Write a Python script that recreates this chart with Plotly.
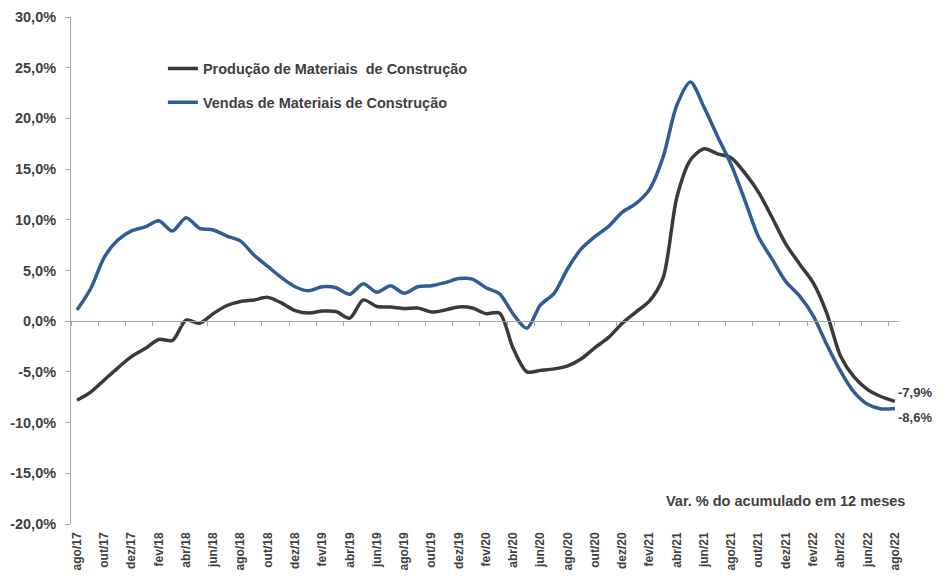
import plotly.graph_objects as go

meses = ["ago/17", "set/17", "out/17", "nov/17", "dez/17",
         "jan/18", "fev/18", "mar/18", "abr/18", "mai/18", "jun/18", "jul/18", "ago/18", "set/18", "out/18", "nov/18", "dez/18",
         "jan/19", "fev/19", "mar/19", "abr/19", "mai/19", "jun/19", "jul/19", "ago/19", "set/19", "out/19", "nov/19", "dez/19",
         "jan/20", "fev/20", "mar/20", "abr/20", "mai/20", "jun/20", "jul/20", "ago/20", "set/20", "out/20", "nov/20", "dez/20",
         "jan/21", "fev/21", "mar/21", "abr/21", "mai/21", "jun/21", "jul/21", "ago/21", "set/21", "out/21", "nov/21", "dez/21",
         "jan/22", "fev/22", "mar/22", "abr/22", "mai/22", "jun/22", "jul/22", "ago/22"]

producao = [-7.8, -7.0, -5.8, -4.6, -3.5, -2.7, -1.8, -1.9, 0.1, -0.2,
            0.75, 1.55, 1.95, 2.1, 2.35, 1.8, 1.05, 0.8, 1.0, 0.95,
            0.3, 2.1, 1.45, 1.4, 1.25, 1.3, 0.9, 1.1, 1.4, 1.3,
            0.75, 0.8, -2.7, -5.0, -4.85, -4.7, -4.4, -3.7, -2.6, -1.6,
            -0.2, 0.9, 2.0, 4.3, 12.2, 15.9, 17.0, 16.5, 16.1, 14.6,
            12.7, 10.2, 7.6, 5.65, 3.8, 0.8, -3.4, -5.5, -6.75, -7.45,
            -7.9]

vendas = [1.1, 3.2, 6.3, 8.0, 8.9, 9.3, 9.9, 8.9, 10.2, 9.15,
          9.0, 8.4, 7.9, 6.5, 5.4, 4.3, 3.4, 3.0, 3.4, 3.3,
          2.65, 3.7, 2.85, 3.5, 2.75, 3.4, 3.5, 3.8, 4.2, 4.15,
          3.3, 2.7, 0.7, -0.7, 1.6, 2.75, 5.2, 7.15, 8.35, 9.35,
          10.75, 11.6, 13.0, 16.2, 21.3, 23.6, 21.1, 18.2, 15.4, 11.9,
          8.3, 6.1, 3.9, 2.5, 0.55, -2.3, -4.9, -7.0, -8.2, -8.65,
          -8.6]

y_ticks = [-20, -15, -10, -5, 0, 5, 10, 15, 20, 25, 30]
y_ticktext = ["-20,0%", "-15,0%", "-10,0%", "-5,0%", "0,0%", "5,0%", "10,0%", "15,0%", "20,0%", "25,0%", "30,0%"]

nome_prod = "Produção de Materiais\u00a0 de Construção"
nome_vend = "Vendas de Materiais de Construção"
nota = "Var. % do acumulado em 12 meses"
rotulo_prod = "-7,9%"
rotulo_vend = "-8,6%"

TXT = "#404040"
C_PROD = "#3A3A3A"
C_VEND = "#2F5E97"
AX = "#A6A6A6"
FONT = "Liberation Sans, Arial, sans-serif"

idx = list(range(len(meses)))
x_range = [-0.44, 60.3]

fig = go.Figure()
fig.add_trace(go.Scatter(
    x=idx, y=producao, mode="lines", name=nome_prod, legendgroup="p",
    line=dict(color=C_PROD, width=3.5, shape="spline", smoothing=0.8),
))
fig.add_trace(go.Scatter(
    x=idx, y=vendas, mode="lines", name=nome_vend, legendgroup="v",
    line=dict(color=C_VEND, width=3.5, shape="spline", smoothing=0.8),
))
# helper trace so the zero-line category axis is rendered
fig.add_trace(go.Scatter(x=[None], y=[None], xaxis="x2", showlegend=False, hoverinfo="skip"))

# the page body has an 8px default margin, so the figure is sized to fit inside the window
fig.update_layout(
    width=927, height=566,
    margin=dict(l=63, r=36, t=9, b=50, autoexpand=False),
    paper_bgcolor="white", plot_bgcolor="white",
    font=dict(family=FONT, color=TXT),
    showlegend=True,
    legend=dict(
        x=0.111, xanchor="left", y=0.93, yanchor="top",
        bgcolor="rgba(0,0,0,0)", borderwidth=0,
        font=dict(size=14.5, color=TXT, weight="bold"),
        traceorder="grouped", tracegroupgap=12,
    ),
    xaxis=dict(
        range=x_range, tickmode="array", automargin=False,
        tickvals=idx[::2], ticktext=meses[::2],
        tickangle=-90, ticks="", showline=False, showgrid=False, zeroline=False,
        ticklabelstandoff=5,
        tickfont=dict(size=12, color=TXT, weight="bold"),
    ),
    xaxis2=dict(
        overlaying="x", anchor="free", position=0.4, side="bottom", automargin=False,
        range=x_range, tickmode="array",
        tickvals=[v - 0.44 for v in idx[::2]],
        showticklabels=False, ticks="outside", ticklen=4, tickcolor=AX,
        showline=True, linecolor=AX, linewidth=1,
        showgrid=False, zeroline=False,
    ),
    yaxis=dict(
        range=[-20, 30], tickmode="array", tickvals=y_ticks, ticktext=y_ticktext,
        automargin=False,
        showline=True, linecolor=AX, linewidth=1,
        ticks="outside", ticklen=5, tickcolor=AX,
        showgrid=False, zeroline=False,
        ticklabelstandoff=6,
        tickfont=dict(size=14.5, color=TXT, weight="bold"),
    ),
)

fig.add_annotation(x=1.0423, y=producao[-1], xref="paper", yref="y", text=rotulo_prod,
                   showarrow=False, xanchor="right", yanchor="middle", yshift=9,
                   font=dict(size=13, color=TXT, weight="bold"))
fig.add_annotation(x=1.0423, y=vendas[-1], xref="paper", yref="y", text=rotulo_vend,
                   showarrow=False, xanchor="right", yanchor="middle", yshift=-9,
                   font=dict(size=13, color=TXT, weight="bold"))
fig.add_annotation(x=1.0097, y=-17.73, xref="paper", yref="y", text=nota,
                   showarrow=False, xanchor="right", yanchor="middle",
                   font=dict(size=14.5, color=TXT, weight="bold"))

fig.write_html("out.html")
